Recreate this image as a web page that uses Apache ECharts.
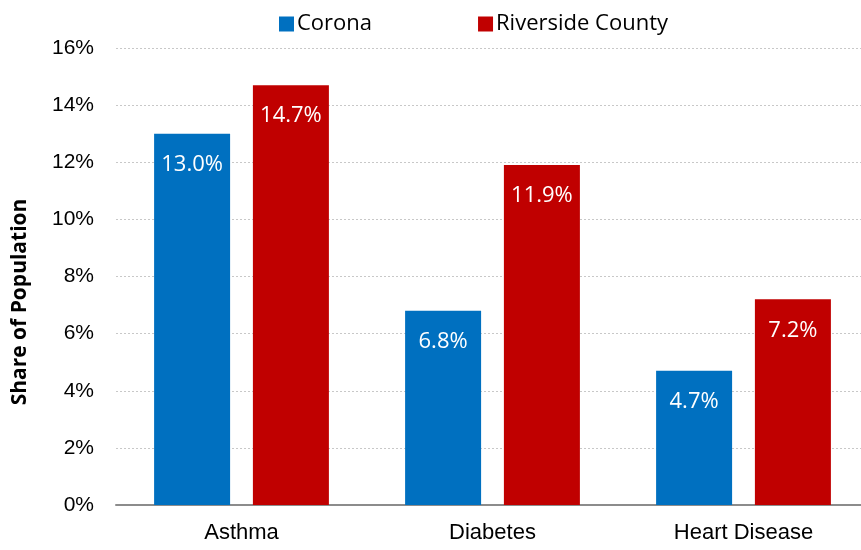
<!DOCTYPE html>
<html><head><meta charset="utf-8">
<script src="https://cdn.jsdelivr.net/npm/echarts@6/dist/echarts.min.js"></script>
<style>html,body{margin:0;padding:0;background:#fff;overflow:hidden}#c{width:869px;height:550px}</style>
</head><body><div id="c"></div>
<script>
const categories = ['Asthma', 'Diabetes', 'Heart Disease'];
const coronaValues = [13.0, 6.8, 4.7];
const riversideValues = [14.7, 11.9, 7.2];
const seriesNames = ['Corona', 'Riverside County'];
const yAxisTitle = 'Share of Population';

const chart = echarts.init(document.getElementById('c'));
const lbl = {
  show: true, position: 'insideTop', distance: 20, color: '#fff',
  fontFamily: 'Open Sans', fontSize: 22,
  formatter: p => p.value.toFixed(1) + '%'
};
chart.setOption({
  animation: false,
  legend: {
    top: 8, left: 274, itemWidth: 15, itemHeight: 15, itemGap: 106,
    icon: 'rect',
    textStyle: {fontFamily: 'Open Sans', fontSize: 22, color: '#000', padding: [0,0,0,-2]},
    data: seriesNames
  },
  grid: {left: 116, top: 48, right: 0, height: 457},
  xAxis: {
    type: 'category', data: categories,
    axisLine: {lineStyle: {color: '#8c8c8c', width: 2}},
    axisTick: {show: false},
    axisLabel: {fontFamily: 'Liberation Sans', fontSize: 22, color: '#000', margin: 17}
  },
  yAxis: {
    type: 'value', min: 0, max: 16, interval: 2,
    axisLabel: {fontFamily: 'Liberation Sans', fontSize: 21, color: '#000', margin: 22, formatter: v => v + '%'},
    splitLine: {lineStyle: {color: '#c8c8c8', type: [2, 2]}},
    axisLine: {show: false}, axisTick: {show: false}
  },
  graphic: [{
    type: 'text', x: 20, y: 302, rotation: Math.PI / 2,
    style: {text: yAxisTitle, fontFamily: 'Open Sans', fontWeight: 'bold', fontSize: 21,
            fill: '#000', align: 'center', verticalAlign: 'middle'}
  }],
  series: [
    {name: seriesNames[0], type: 'bar', data: coronaValues, barWidth: 76, barGap: '30%',
     itemStyle: {color: '#0070C0'}, label: lbl},
    {name: seriesNames[1], type: 'bar', data: riversideValues, barWidth: 76,
     itemStyle: {color: '#C00000'}, label: lbl}
  ]
});
</script></body></html>
